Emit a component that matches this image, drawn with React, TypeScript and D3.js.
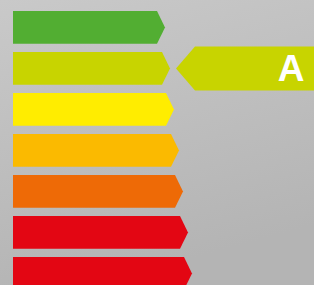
import React from 'react';
import * as d3 from 'd3';

// energy classes, top to bottom
const classes = ['A+++', 'A++', 'A+', 'A', 'B', 'C', 'D'];
const colors = ['#52ae32', '#c8d400', '#ffed00', '#fbba00', '#ee6a06', '#e30613', '#e30613'];
// arrow length (to tip) of each class bar, px-ish units
const lengths = [152, 157, 161, 166, 170, 175, 179];
const rating = 'A';
const ratingRow = 1;

const W = 314;
const H = 285;

const App: React.FC = () => {
  const y = d3.scaleBand<string>()
    .domain(classes)
    .range([11, 11 + 41 * (classes.length - 0.2)])
    .paddingInner(0.2)
    .paddingOuter(0);

  const x = d3.scaleLinear().domain([0, 200]).range([13, 213]);
  const bh = y.bandwidth();
  const tip = 8;

  const barPath = (c: string, i: number) => {
    const y0 = y(c)!;
    const x1 = x(lengths[i]);
    const p = d3.path();
    p.moveTo(x(0), y0);
    p.lineTo(x1 - tip, y0);
    p.lineTo(x1, y0 + bh / 2);
    p.lineTo(x1 - tip, y0 + bh);
    p.lineTo(x(0), y0 + bh);
    p.closePath();
    return p.toString();
  };

  // rating arrow
  const cy = y(classes[ratingRow])! + bh / 2;
  const ah = 44;
  const ax = 176;
  const arrow = d3.path();
  arrow.moveTo(ax, cy);
  arrow.lineTo(ax + 19, cy - ah / 2);
  arrow.lineTo(W, cy - ah / 2);
  arrow.lineTo(W, cy + ah / 2);
  arrow.lineTo(ax + 19, cy + ah / 2);
  arrow.closePath();

  return (
    <svg width={W} height={H} style={{ position: 'fixed', left: 0, top: 0 }}>
      <defs>
        <linearGradient id="bg" x1="0" y1="0" x2="0.3" y2="1">
          <stop offset="0" stopColor="#c9c9c9" />
          <stop offset="1" stopColor="#b4b4b4" />
        </linearGradient>
      </defs>
      <rect width={W} height={H} fill="url(#bg)" />
      {classes.map((c, i) => (
        <path key={c} d={barPath(c, i)} fill={colors[i]} />
      ))}
      <path d={arrow.toString()} fill={colors[ratingRow]} />
      <text
        x={291}
        y={cy + 13}
        textAnchor="middle"
        fill="#fff"
        fontFamily="Liberation Sans, Arial, sans-serif"
        fontWeight="bold"
        fontSize={37}
      >
        {rating}
      </text>
    </svg>
  );
};

export default App;
